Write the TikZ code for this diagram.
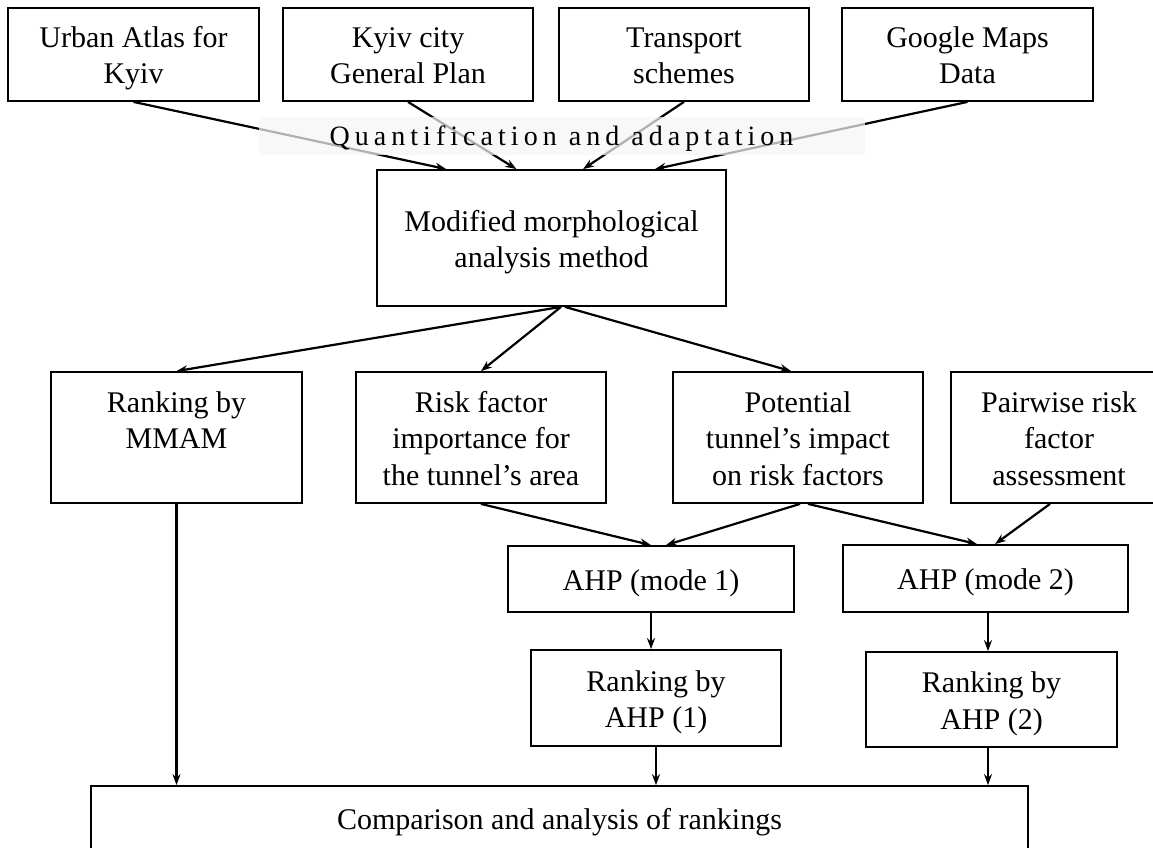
\documentclass[tikz,border=0pt]{standalone}
\usepackage{fontspec}
\setmainfont{Liberation Serif}
\usetikzlibrary{arrows.meta,calc}
\newcommand{\bfs}{\fontsize{30}{36.5}\selectfont}
\newcommand{\lst}{\rule[-7pt]{0pt}{36.5pt}}
\begin{document}
\begin{tikzpicture}[x=1pt,y=-1pt,
  box/.style={draw, line width=1.8pt, align=center, inner sep=0pt, font=\bfs, text=black},
  arr/.style={line width=2.2pt, -{Stealth[length=11pt,width=8pt]}},
  bandstyle/.style={fill=gray!8, fill opacity=0.72, draw=none, inner sep=0pt},
]
\useasboundingbox (0,0) rectangle (1153,848);
\clip (0,0) rectangle (1153,848);

% top row
\node[box, minimum width=251pt, minimum height=93pt] (u) at (133.5,54.5) {\lst Urban Atlas for\\\lst Kyiv};
\node[box, minimum width=250pt, minimum height=93pt] (k) at (408,54.5) {\lst Kyiv city\\\lst General Plan};
\node[box, minimum width=250pt, minimum height=93pt] (t) at (684,54.5) {\lst Transport\\\lst schemes};
\node[box, minimum width=251pt, minimum height=93pt] (g) at (967.5,54.5) {\lst Google Maps\\\lst Data};

% method
\node[box, minimum width=349pt, minimum height=136pt] (m) at (551.5,238) {\lst Modified morphological\\\lst analysis method};

% second row
\node[box, minimum width=251pt, minimum height=131pt] (r0) at (176.5,437.5) {\lst Ranking by\\\lst MMAM\\\lst};
\node[box, minimum width=250pt, minimum height=131pt] (r1) at (481,437.5) {\lst Risk factor\\\lst importance for\\\lst the tunnel’s area};
\node[box, minimum width=250pt, minimum height=131pt] (p) at (798,437.5) {\lst Potential\\\lst tunnel’s impact\\\lst on risk factors};
\node[box, minimum width=216pt, minimum height=131pt] (pw) at (1059,437.5) {\lst Pairwise risk\\\lst factor\\\lst assessment};

% AHP
\node[box, minimum width=286pt, minimum height=66pt] (a1) at (651,579) {\lst AHP (mode 1)};
\node[box, minimum width=285pt, minimum height=67pt] (a2) at (985.5,578.5) {\lst AHP (mode 2)};

% rankings
\node[box, minimum width=250pt, minimum height=96pt] (ra1) at (656,698) {\lst Ranking by\\\lst AHP (1)};
\node[box, minimum width=251pt, minimum height=95pt] (ra2) at (991.5,699.5) {\lst Ranking by\\\lst AHP (2)};

% comparison
\node[box, minimum width=937pt, minimum height=64pt] (c) at (559.5,818) {\lst Comparison and analysis of rankings};

% arrows from sources
\draw[arr] (u.south) -- ($(m.north west)!0.2!(m.north east)$);
\draw[arr] (k.south) -- ($(m.north west)!0.4!(m.north east)$);
\draw[arr] (t.south) -- ($(m.north west)!0.59!(m.north east)$);
\draw[arr] (g.south) -- ($(m.north west)!0.795!(m.north east)$);

% band over the arrows
\node[bandstyle, minimum width=606pt, minimum height=38pt] (q) at (562,136) {};
\node[inner sep=0pt, font=\fontsize{28}{30}\selectfont\addfontfeatures{LetterSpace=18}] (qt) at (561.5,139) {Quantification and adaptation};

% from method
\coordinate (ms) at ($(m.south west)!0.527!(m.south east)$);
\draw[arr] (ms) -- (r0.north);
\draw[arr] (ms) -- (r1.north);
\draw[arr] ($(ms)+(4,0)$) -- ($(p.north)+(-7,0)$);

% into AHP
\draw[arr] (r1.south) -- (a1.north);
\draw[arr] ($(p.south)+(2,0)$) -- ($(a1.north)+(15,0)$);
\draw[arr] ($(p.south)+(10,0)$) -- ($(a2.north)+(-8.5,0)$);
\draw[arr] ($(pw.south)+(-9,0)$) -- ($(a2.north)+(9.5,0)$);

% AHP to rankings
\draw[arr] (a1.south) -- (a1.south |- ra1.north);
\draw[arr] ($(a2.south)+(2.5,0)$) -- ($(ra2.north)+(-3.5,0)$);

% into comparison
\draw[arr] (r0.south) -- (r0.south |- c.north);
\draw[arr] (ra1.south) -- (ra1.south |- c.north);
\draw[arr] ($(ra2.south)+(-3.5,0)$) -- ($(ra2.south |- c.north)+(-3.5,0)$);
\end{tikzpicture}
\end{document}
